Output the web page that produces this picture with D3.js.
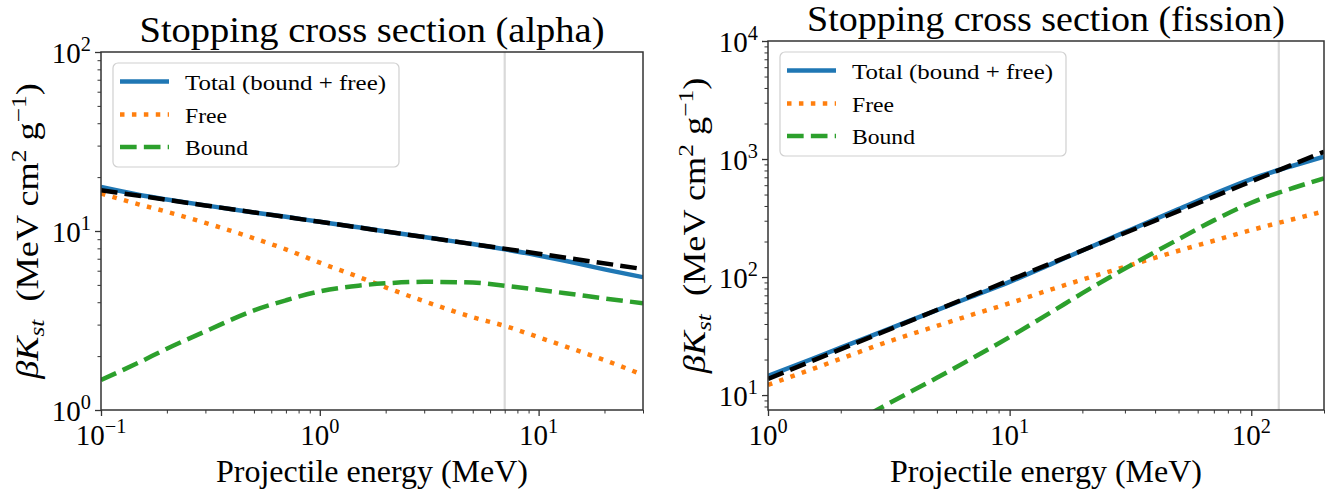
<!DOCTYPE html>
<html>
<head>
<meta charset="utf-8">
<script src="https://cdn.jsdelivr.net/npm/d3@7"></script>
<style>
  html, body { margin: 0; padding: 0; background: #fff; }
  svg text { font-family: "Liberation Serif", "DejaVu Serif", serif; fill: #000; }
</style>
</head>
<body>
<svg id="fig" width="1343" height="493"></svg>
<script>
// ---- Alpha particles: stopping cross section vs projectile energy ----
const alphaEnergy = [0.1, 0.15, 0.2, 0.3, 0.5, 0.7, 1, 1.5, 2, 3, 5, 7, 10, 15, 20, 30];
const alphaTotal  = [17.6, 15.9, 15.0, 13.9, 12.7, 12.0, 11.25, 10.5, 9.94, 9.25, 8.45, 7.9, 7.3, 6.6, 6.1, 5.52];
const alphaFree   = [16.2, 14.05, 12.8, 11.1, 9.1, 7.9, 6.65, 5.55, 4.84, 4.05, 3.3, 2.95, 2.55, 2.15, 1.9, 1.57];
const alphaBound  = [1.47, 1.85, 2.2, 2.75, 3.6, 4.1, 4.6, 4.95, 5.1, 5.2, 5.15, 4.95, 4.7, 4.4, 4.2, 3.95];
const alphaFitEnergy = [0.1, 0.3, 1, 3, 10, 30];
const alphaFit       = [16.9, 13.9, 11.25, 9.25, 7.47, 6.13];
const alphaCutoff = 7;
const alphaXTicks = [0.1, 1, 10];
const alphaXTickExp = ["\u22121", "0", "1"];
const alphaYTicks = [1, 10, 100];
const alphaYTickExp = ["0", "1", "2"];

// ---- Fission fragments ----
const fissionEnergy = [1, 1.5, 2, 3, 5, 7, 10, 15, 20, 30, 50, 70, 100, 130, 150, 200];
const fissionTotal  = [14.5, 20, 25.2, 34.8, 52.4, 68.5, 91, 130, 168, 240, 376, 505, 676, 807, 881, 1047];
const fissionFree   = [12.2, 16.4, 20.3, 27.4, 38.5, 48, 60, 79, 95, 122, 167, 203, 250, 288, 310, 361];
const fissionBound  = [2.0, 3.3, 4.95, 8.0, 14, 20.5, 31, 51, 73, 118, 209, 302, 426, 519, 571, 686];
const fissionFitEnergy = [1, 3, 10, 30, 100, 200];
const fissionFit       = [13.7, 34.3, 94, 236, 646, 1153];
const fissionCutoff = 130;
const fissionXTicks = [1, 10, 100];
const fissionXTickExp = ["0", "1", "2"];
const fissionYTicks = [10, 100, 1000, 10000];
const fissionYTickExp = ["1", "2", "3", "4"];

const legendLabels = ["Total (bound + free)", "Free", "Bound"];
const titles = ["Stopping cross section (alpha)", "Stopping cross section (fission)"];
const xLabel = "Projectile energy (MeV)";

const svg = d3.select("#fig");
const C = { blue: "#1f77b4", orange: "#ff7f0e", green: "#2ca02c", spine: "#333333" };
const LW = 4.5;

function minorTicks(domain) {
  const out = [];
  const lo = Math.floor(Math.log10(domain[0])), hi = Math.ceil(Math.log10(domain[1]));
  for (let e = lo; e <= hi; e++) {
    for (let m = 2; m <= 9; m++) {
      const v = m * Math.pow(10, e);
      if (v >= domain[0] * 0.9999 && v <= domain[1] * 1.0001) out.push(v);
    }
  }
  return out;
}

function powLabel(sel, exp, size) {
  sel.append("tspan").text("10");
  sel.append("tspan").attr("font-size", size * 0.7).attr("dy", -size * 0.42).text(exp);
}

function drawPanel(cfg) {
  const g = svg.append("g");
  const x = d3.scaleLog().domain(cfg.xDomain).range([cfg.left, cfg.right]);
  const y = d3.scaleLog().domain(cfg.yDomain).range([cfg.bottom, cfg.top]);

  const clipId = "clip-" + cfg.key;
  svg.append("clipPath").attr("id", clipId).append("rect")
    .attr("x", cfg.left).attr("y", cfg.top)
    .attr("width", cfg.right - cfg.left).attr("height", cfg.bottom - cfg.top);

  const plot = g.append("g").attr("clip-path", `url(#${clipId})`);

  // vertical reference energy
  plot.append("line")
    .attr("x1", x(cfg.cutoff)).attr("x2", x(cfg.cutoff))
    .attr("y1", cfg.top).attr("y2", cfg.bottom)
    .attr("stroke", "#d9d9d9").attr("stroke-width", 2.2);

  const line = d3.line().x(d => x(d[0])).y(d => y(d[1])).curve(d3.curveMonotoneX);
  const series = [
    { xs: cfg.energy, ys: cfg.total, color: C.blue, dash: null, w: LW },
    { xs: cfg.energy, ys: cfg.free, color: C.orange, dash: `${LW},${LW * 1.65}`, w: LW },
    { xs: cfg.energy, ys: cfg.bound, color: C.green, dash: `${LW * 3.7},${LW * 1.6}`, w: LW },
    { xs: cfg.fitEnergy, ys: cfg.fit, color: "#000", dash: `${LW * 3.7},${LW * 1.6}`, w: LW }
  ];
  series.forEach(s => {
    plot.append("path")
      .datum(s.xs.map((e, i) => [e, s.ys[i]]))
      .attr("d", line)
      .attr("fill", "none")
      .attr("stroke", s.color)
      .attr("stroke-width", s.w)
      .attr("stroke-dasharray", s.dash)
      .attr("stroke-linecap", "butt");
  });

  // axes: major and minor ticks pointing outward
  const xMajor = d3.axisBottom(x).tickValues(cfg.xTicks).tickSize(6).tickSizeOuter(0).tickFormat("");
  const xMinor = d3.axisBottom(x).tickValues(minorTicks(cfg.xDomain)).tickSize(3.5).tickSizeOuter(0).tickFormat("");
  const yMajor = d3.axisLeft(y).tickValues(cfg.yTicks).tickSize(6).tickSizeOuter(0).tickFormat("");
  const yMinor = d3.axisLeft(y).tickValues(minorTicks(cfg.yDomain)).tickSize(3.5).tickSizeOuter(0).tickFormat("");

  [[xMajor, 1.3], [xMinor, 1]].forEach(([ax, w]) => {
    g.append("g").attr("transform", `translate(0,${cfg.bottom})`).call(ax)
      .call(s => s.select(".domain").remove())
      .call(s => s.selectAll("line").attr("stroke", C.spine).attr("stroke-width", w));
  });
  [[yMajor, 1.3], [yMinor, 1]].forEach(([ax, w]) => {
    g.append("g").attr("transform", `translate(${cfg.left},0)`).call(ax)
      .call(s => s.select(".domain").remove())
      .call(s => s.selectAll("line").attr("stroke", C.spine).attr("stroke-width", w));
  });

  // frame
  g.append("rect")
    .attr("x", cfg.left).attr("y", cfg.top)
    .attr("width", cfg.right - cfg.left).attr("height", cfg.bottom - cfg.top)
    .attr("fill", "none").attr("stroke", C.spine).attr("stroke-width", 1.5);

  // tick labels
  const TS = 29;
  cfg.xTicks.forEach((v, i) => {
    const t = g.append("text").attr("x", x(v)).attr("y", cfg.bottom + 35)
      .attr("text-anchor", "middle").attr("font-size", TS);
    powLabel(t, cfg.xTickExp[i], TS);
  });
  cfg.yTicks.forEach((v, i) => {
    const t = g.append("text").attr("x", cfg.left - 10).attr("y", y(v) + 11)
      .attr("text-anchor", "end").attr("font-size", TS);
    powLabel(t, cfg.yTickExp[i], TS);
  });

  // title
  g.append("text").attr("x", (cfg.left + cfg.right) / 2).attr("y", cfg.top - 10)
    .attr("text-anchor", "middle").attr("font-size", 35)
    .attr("textLength", cfg.titleLen).attr("lengthAdjust", "spacingAndGlyphs")
    .text(cfg.title);

  // x label
  g.append("text").attr("x", (cfg.left + cfg.right) / 2).attr("y", 482)
    .attr("text-anchor", "middle").attr("font-size", 31)
    .attr("textLength", 312).attr("lengthAdjust", "spacingAndGlyphs")
    .text(xLabel);

  // y label: βK_st (MeV cm^2 g^-1), stretched along its baseline
  const YS = 31;
  const yl = g.append("text")
    .attr("transform", `translate(${cfg.yLabelX},${(cfg.top + cfg.bottom) / 2}) rotate(-90) scale(1.17,1)`)
    .attr("text-anchor", "middle").attr("font-size", YS);
  yl.append("tspan").attr("font-style", "italic").text("\u03B2K");
  yl.append("tspan").attr("font-style", "italic").attr("font-size", YS * 0.7).attr("dy", 6).text("st");
  yl.append("tspan").attr("dy", -6).text("\u2002(MeV cm");
  yl.append("tspan").attr("font-size", YS * 0.7).attr("dy", -12).text("2");
  yl.append("tspan").attr("dy", 12).text(" g");
  yl.append("tspan").attr("font-size", YS * 0.7).attr("dy", -12).text("\u22121");
  yl.append("tspan").attr("dy", 12).text(")");

  // legend
  const lg = g.append("g").attr("transform", `translate(${cfg.left + 12},${cfg.top + 11})`);
  lg.append("rect").attr("width", 286).attr("height", 104).attr("rx", 5)
    .attr("fill", "rgba(255,255,255,0.8)").attr("stroke", "#d0d0d0").attr("stroke-width", 1.2);
  const rows = [18.5, 51.5, 84];
  const lens = [201, 42, 63];
  series.slice(0, 3).forEach((s, i) => {
    lg.append("line").attr("x1", 7).attr("x2", 56).attr("y1", rows[i]).attr("y2", rows[i])
      .attr("stroke", s.color).attr("stroke-width", s.w).attr("stroke-dasharray", s.dash);
    lg.append("text").attr("x", 72).attr("y", rows[i] + 8).attr("font-size", 22)
      .attr("textLength", lens[i]).attr("lengthAdjust", "spacingAndGlyphs")
      .text(legendLabels[i]);
  });
}

drawPanel({
  key: "alpha", left: 101, right: 643, top: 52, bottom: 410,
  xDomain: [0.1, 30], yDomain: [1, 100],
  energy: alphaEnergy, total: alphaTotal, free: alphaFree, bound: alphaBound,
  fitEnergy: alphaFitEnergy, fit: alphaFit, cutoff: alphaCutoff,
  xTicks: alphaXTicks, xTickExp: alphaXTickExp, yTicks: alphaYTicks, yTickExp: alphaYTickExp,
  title: titles[0], titleLen: 465, yLabelX: 38
});

drawPanel({
  key: "fission", left: 768, right: 1324, top: 41, bottom: 410,
  xDomain: [1, 200], yDomain: [7.47, 10000],
  energy: fissionEnergy, total: fissionTotal, free: fissionFree, bound: fissionBound,
  fitEnergy: fissionFitEnergy, fit: fissionFit, cutoff: fissionCutoff,
  xTicks: fissionXTicks, xTickExp: fissionXTickExp, yTicks: fissionYTicks, yTickExp: fissionYTickExp,
  title: titles[1], titleLen: 478, yLabelX: 705
});
</script>
</body>
</html>
